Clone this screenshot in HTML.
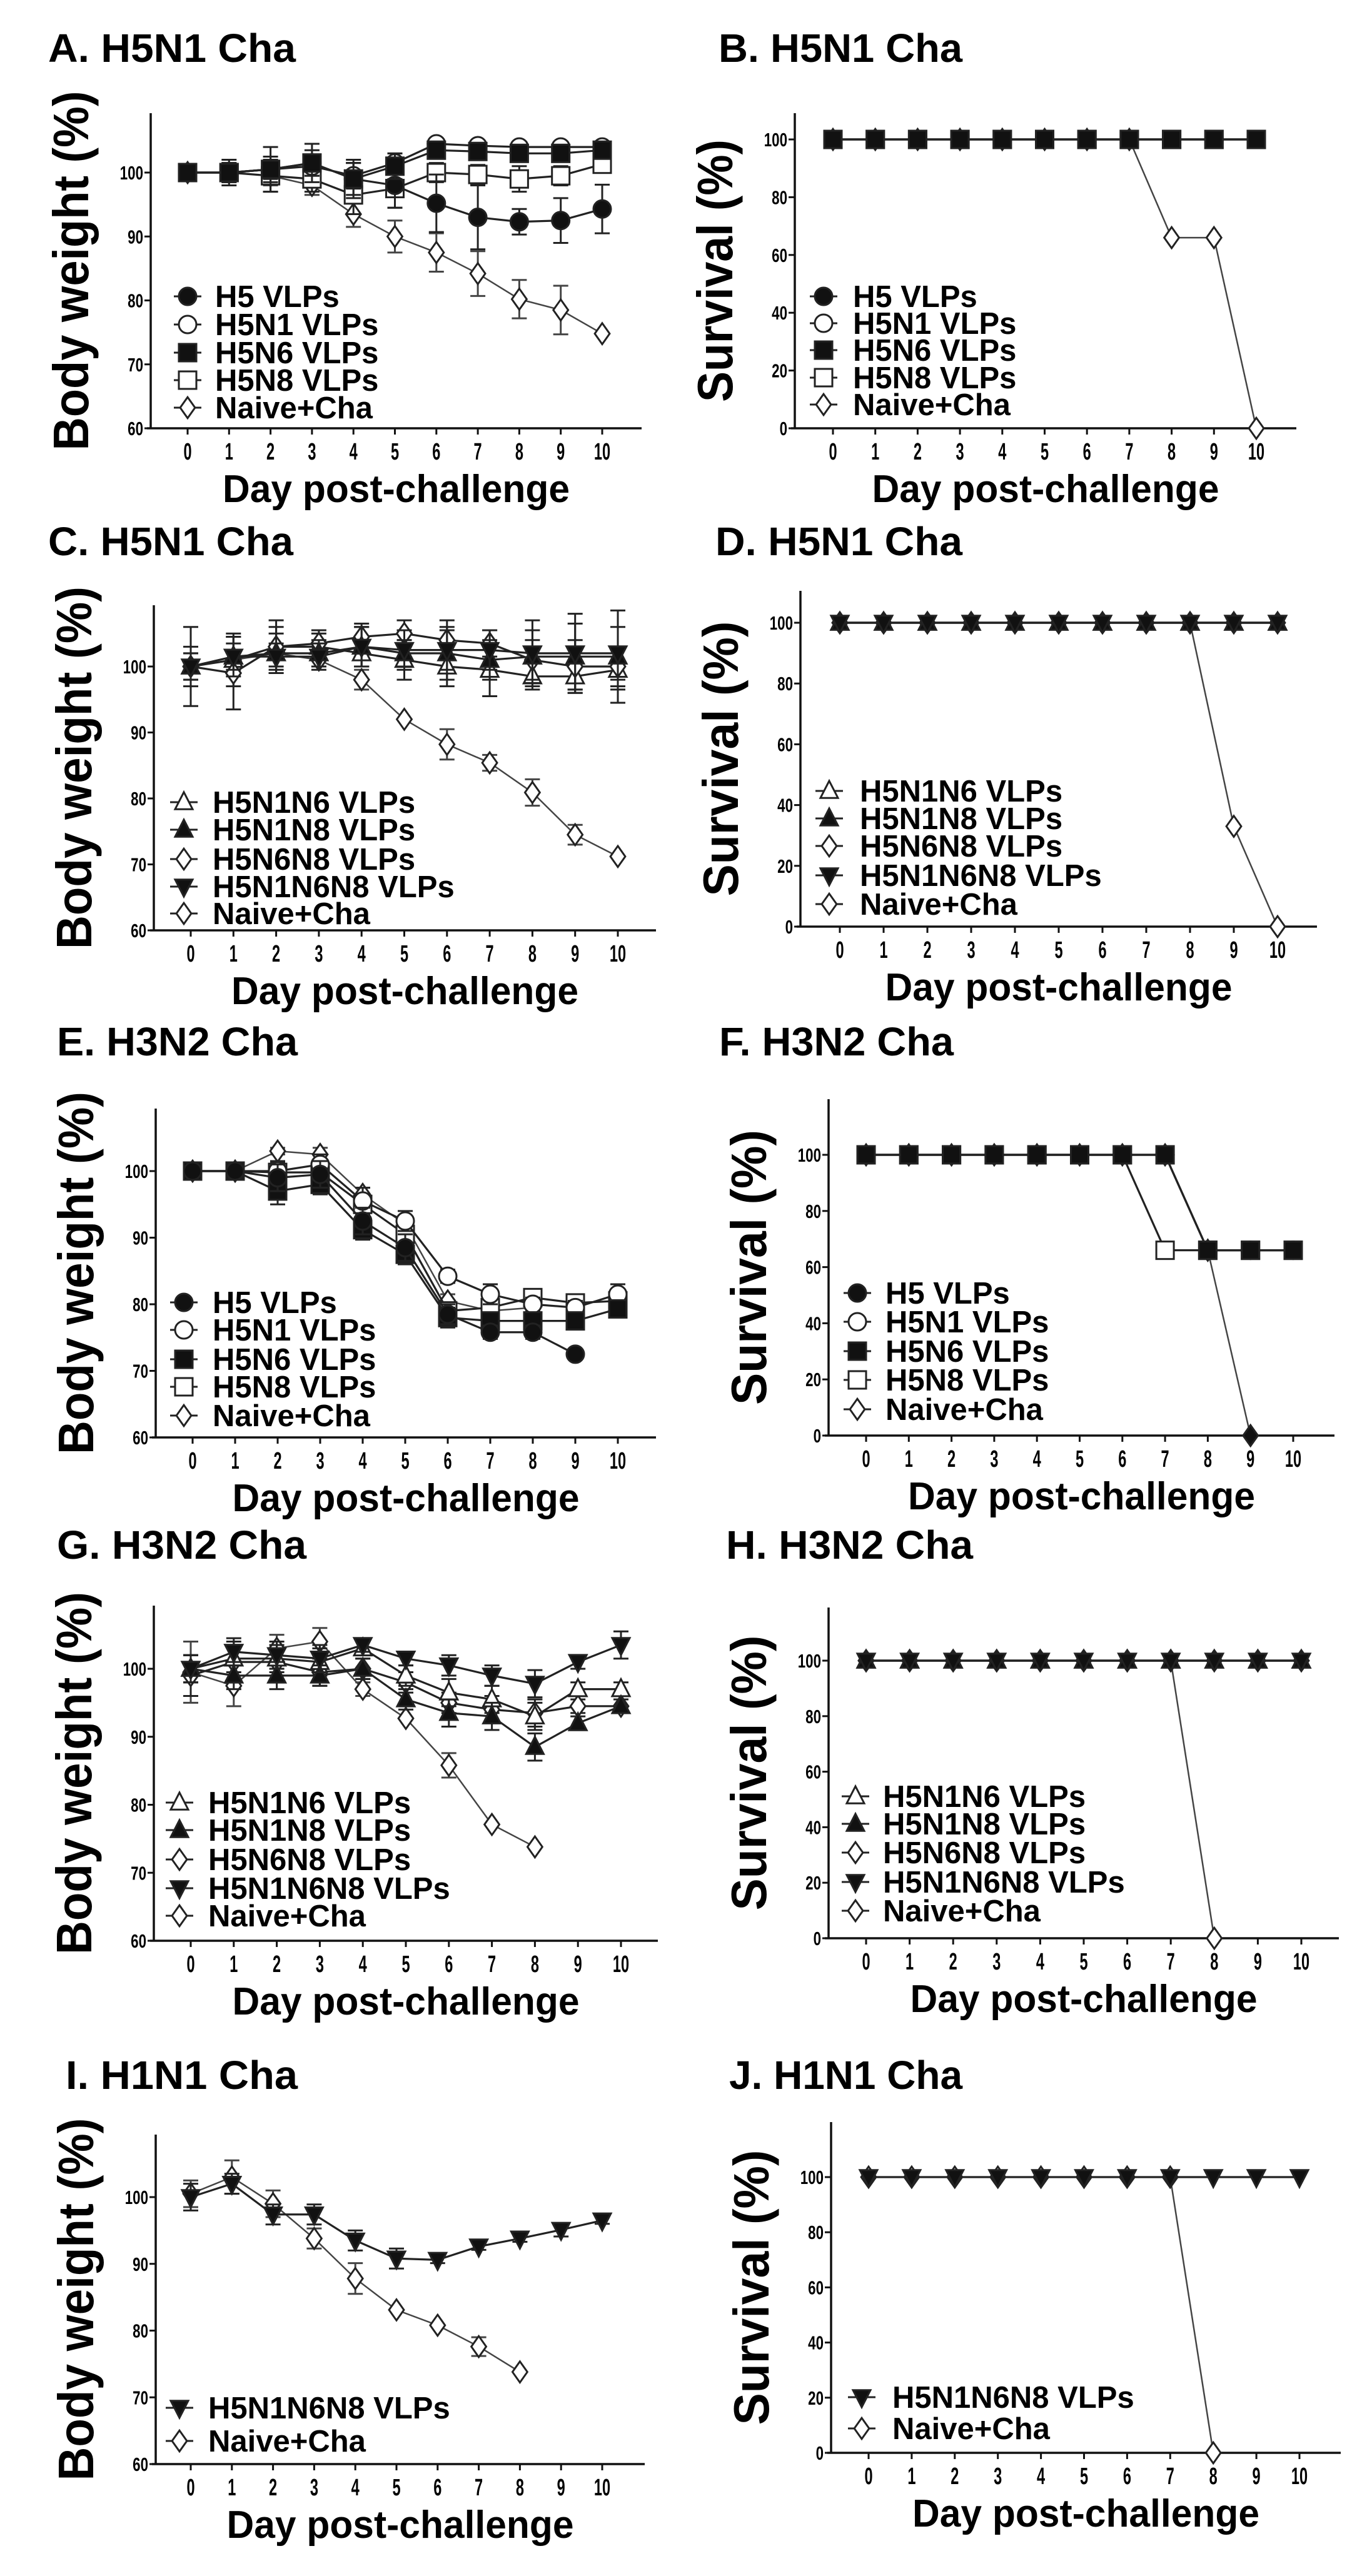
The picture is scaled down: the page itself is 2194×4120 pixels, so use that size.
<!DOCTYPE html>
<html><head><meta charset="utf-8">
<style>
html,body{margin:0;padding:0;background:#fff;}
svg{display:block;}
text{font-family:"Liberation Sans",Arial,sans-serif;font-weight:bold;fill:#000;}
</style></head>
<body>
<svg id="fig" xmlns="http://www.w3.org/2000/svg" width="2194" height="4120" viewBox="0 0 2194 4120">
<rect x="0" y="0" width="2194" height="4120" fill="#fff"/>
</svg>
<script>
// ---------- DATA ----------
const DAYS = [0,1,2,3,4,5,6,7,8,9,10];
const WEIGHT_TICKS = [60,70,80,90,100];
const SURV_TICKS = [0,20,40,60,80,100];
const DAY_LABELS = ["0","1","2","3","4","5","6","7","8","9","10"];

// Panel A
const aH5 = [100,100,100.5,101.5,99,98,95.2,93,92.3,92.5,94.3];
const aH5Err = [0,1.5,2,2,2.5,3.5,4.5,5,2,3.5,3.8];
const aH5N1 = [100,100,100.5,101,99.5,101.5,104.5,104.2,104,104,104];
const aH5N1Err = [0,1,1.5,1.5,2,1.5,0.8,0.8,0.8,0.8,0.8];
const aH5N6 = [100,100,100.5,101.5,99,101,103.5,103.3,103,103,103.5];
const aH5N6Err = [0,2,3.5,3,3,2,1,1,1,1,1];
const aH5N8 = [100,100,99.5,99,96.5,97.5,100,99.7,99,99.5,101.3];
const aH5N8Err = [0,1.5,2.5,2,3,3,1.5,1.5,2,1.5,1];
const aNaive = [100,100,99.5,98,93.5,90,87.5,84.2,80.2,78.5,74.8];
const aNaiveErr = [0,1,1.5,1.5,2,2.5,3,3.5,3,3.8,0];
// Panel B
const bH5 = [100,100,100,100,100,100,100,100,100,100,100];
const bH5N1 = [100,100,100,100,100,100,100,100,100,100,100];
const bH5N6 = [100,100,100,100,100,100,100,100,100,100,100];
const bH5N8 = [100,100,100,100,100,100,100,100,100,100,100];
const bNaive = [100,100,100,100,100,100,100,100,66,66,0];
// Panel C
const cN1N6 = [100,101,103,103,102,101,100,99.5,98.5,98.5,99.5];
const cN1N6Err = [6,4,4,2,2,3,3,4,2,2,3];
const cN1N8 = [100,101.5,102,102,103,102,102,101,101.5,101.5,101.5];
const cN1N8Err = [2,3,3,2,3,2,4,3,4,5,7];
const cN6N8 = [100,99,103,103.5,104.5,105,104,103.5,101,100,100];
const cN6N8Err = [3,5.5,3,2,2,2,3,2,3,4,3];
const cN1N6N8 = [100,101.5,101.5,101.5,103,102.5,102.5,102.5,102,102,102];
const cN1N6N8Err = [2,2,2,2,3,3,3,3,5,6,4];
const cNaive = [100,101,102,101,98,92,88.2,85.4,80.9,74.5,71.2];
const cNaiveErr = [0,1,1,1,1.5,0,2.3,1.2,2,1.5,0];
// Panel D
const dN1N6 = [100,100,100,100,100,100,100,100,100,100,100];
const dN1N8 = [100,100,100,100,100,100,100,100,100,100,100];
const dN6N8 = [100,100,100,100,100,100,100,100,100,100,100];
const dN1N6N8 = [100,100,100,100,100,100,100,100,100,100,100];
const dNaive = [100,100,100,100,100,100,100,100,100,33,0];
// Panel E
const eH5 = [100,100,99,99.5,92.5,88.5,78.5,75.8,75.8,72.5];
const eH5Err = [0,1,2,2,2,2,1.5,1,1,0];
const eH5N1 = [100,100,100,101,95.5,92.5,84.2,81.5,80,79.5,81.5];
const eH5N1Err = [0,1,1.5,1.5,2,1.5,1,1.5,1,1,1.5];
const eH5N6 = [100,100,97,98,91.2,87.5,78,77.5,77.5,77.5,79.3];
const eH5N6Err = [0,1,2,1.5,1.5,1.5,1.5,1,1,1,1];
const eH5N8 = [100,100,99.8,99.8,95,90.5,79,79.5,81,80.2,80.5];
const eH5N8Err = [0,1,1.5,1.5,1.5,1.5,1,1,1,1,1];
const eNaive = [100,100,103,102.5,96.5,92,80.5,79,79.5];
const eNaiveErr = [0,1,0.5,1,1,1,1,1,1];
// Panel F
const fH5 = [100,100,100,100,100,100,100,100,66,66,66];
const fH5N1 = [100,100,100,100,100,100,100,100,66,66,66];
const fH5N6 = [100,100,100,100,100,100,100,100,66,66,66];
const fH5N8 = [100,100,100,100,100,100,100,66,66,66,66];
const fNaive = [100,100,100,100,100,100,100,100,66,0];
// Panel G
const gN1N6 = [100,101.5,101.5,101,103,99,96.5,95.5,93,97,97];
const gN1N6Err = [2,2,2,2,1,1.5,2,2,2,1,1];
const gN1N8 = [100,99,99,99,100,95.5,93.5,93,88.5,92,94.5];
const gN1N8Err = [2,2,2,1.5,1.5,1.5,2,2,2,1,1];
const gN6N8 = [99,101,101,99.5,100,98,95,94,93.5,94.5,94.5];
const gN6N8Err = [3,3,2,2,1.5,1.5,1.5,2,2,1,1];
const gN1N6N8 = [100,102.5,102,101.5,103.5,101.5,100.5,99,97.8,101,103.5];
const gN1N6N8Err = [2,2,2,2,1,1,1.5,1.5,2,1,2];
const gNaive = [99.5,97.5,103,104,97,92.7,85.8,77.1,73.8];
const gNaiveErr = [4.5,3,2,2,1,0,1.8,0,0];
// Panel H
const hN1N6 = [100,100,100,100,100,100,100,100,100,100,100];
const hN1N8 = [100,100,100,100,100,100,100,100,100,100,100];
const hN6N8 = [100,100,100,100,100,100,100,100,100,100,100];
const hN1N6N8 = [100,100,100,100,100,100,100,100,100,100,100];
const hNaive = [100,100,100,100,100,100,100,100,0];
// Panel I
const iN1N6N8 = [100,102,97.4,97.4,93.5,90.8,90.6,92.6,93.8,95.1,96.5];
const iN1N6N8Err = [2,1.5,1.5,1.5,1.5,1.5,0.5,0.5,0.5,1,0.5];
const iNaive = [100.5,103,99,93.8,87.8,83.1,80.8,77.6,73.8];
const iNaiveErr = [2,2.5,2,1.5,2.3,0,0,1.4,0];
// Panel J
const jN1N6N8 = [100,100,100,100,100,100,100,100,100,100,100];
const jNaive = [100,100,100,100,100,100,100,100,0];

// ---------- DRAWING ----------
const NS = "http://www.w3.org/2000/svg";
const svg = document.getElementById("fig");
function el(tag, attrs, parent){
  const e = document.createElementNS(NS, tag);
  for (const k in attrs) e.setAttribute(k, attrs[k]);
  (parent||svg).appendChild(e);
  return e;
}
function txt(parent, x, y, s, size, anchor, sx, extra){
  const g = el("g", {transform:`translate(${x},${y}) scale(${sx},1)`}, parent);
  const t = el("text", Object.assign({x:0,y:0,"font-size":size,"text-anchor":anchor}, extra||{}), g);
  t.textContent = s;
  return t;
}
function marker(parent, type, x, y, s){
  const filled = ["circle","square","tri","tridown","fdiamond"].includes(type);
  const fill = filled ? "#111" : "#fff";
  const st = {fill:fill, stroke:"#222", "stroke-width":3};
  let m;
  if (type==="circle"||type==="ocircle") m = el("circle", Object.assign({cx:x,cy:y,r:s}, st), parent);
  else if (type==="square"||type==="osquare") m = el("rect", Object.assign({x:x-s,y:y-s,width:2*s,height:2*s}, st), parent);
  else if (type==="diamond"||type==="fdiamond") m = el("polygon", Object.assign({points:`${x},${y-s*1.2} ${x+s*0.85},${y} ${x},${y+s*1.2} ${x-s*0.85},${y}`}, st), parent);
  else if (type==="tri"||type==="otri") m = el("polygon", Object.assign({points:`${x},${y-s*1.15} ${x+s},${y+s*0.8} ${x-s},${y+s*0.8}`}, st), parent);
  else m = el("polygon", Object.assign({points:`${x},${y+s*1.15} ${x+s},${y-s*0.8} ${x-s},${y-s*0.8}`}, st), parent);
  return m;
}

function panel(cfg){
  const g = el("g", {});
  
  
  const xs = d => cfg.d0 + (cfg.d10 - cfg.d0) * d / 10;
  const ys = v => cfg.yb - (cfg.yb - cfg.y100) * (v - cfg.ymin) / (100 - cfg.ymin);
  const tt = txt(g, cfg.titleX, cfg.titleY, cfg.title, 64, "start", 1, {textLength:cfg.titleW, lengthAdjust:"spacingAndGlyphs"});
  
  
  const ya = el("line", {x1:cfg.ax,y1:cfg.top,x2:cfg.ax,y2:cfg.yb,stroke:"#111","stroke-width":3.5}, g);
  
  
  const xa = el("line", {x1:cfg.ax-6,y1:cfg.yb,x2:cfg.right,y2:cfg.yb,stroke:"#111","stroke-width":3.5}, g);
  
  
  cfg.yticks.forEach(v => {
    const y = ys(v);
    el("line", {x1:cfg.ax-10,y1:y,x2:cfg.ax,y2:y,stroke:"#111","stroke-width":3}, g);
    const t = txt(g, cfg.ax-12, y+11, String(v), 31, "end", 0.72);
    
    
  });
  DAYS.forEach((d,i) => {
    const x = xs(d);
    el("line", {x1:x,y1:cfg.yb,x2:x,y2:cfg.yb+10,stroke:"#111","stroke-width":3}, g);
    const t = txt(g, x, cfg.yb+50, DAY_LABELS[i], 38, "middle", 0.62);
    
    
  });
  const xt = txt(g, (cfg.ax+cfg.right)/2, cfg.yb+118, "Day post-challenge", 62, "middle", 1, {textLength:555, lengthAdjust:"spacingAndGlyphs"});
  
  
  const midY = (cfg.top + cfg.yb)/2;
  const yg = el("g", {transform:`translate(${cfg.ax-100},${midY}) rotate(-90)`}, g);
  const yt = el("text", {x:0,y:0,"font-size":80,"text-anchor":"middle",textLength:cfg.ylabW,lengthAdjust:"spacingAndGlyphs"}, yg);
  yt.textContent = cfg.ylabel;
  
  
  cfg.series.forEach(s => {
    const sg = el("g", {}, g);
    
    
    const col = s.naive ? "#444" : "#222";
    const pts = s.values.map((v,i) => `${xs(DAYS[i])},${ys(v)}`).join(" ");
    el("polyline", {points:pts, fill:"none", stroke:col, "stroke-width": s.naive?2.5:3.2}, sg);
    if (s.err) s.values.forEach((v,i) => {
      const e = s.err[i]; if (!e) return;
      const x = xs(DAYS[i]);
      el("line", {x1:x,y1:ys(v+e),x2:x,y2:ys(v-e),stroke:col,"stroke-width":3}, sg);
      el("line", {x1:x-12,y1:ys(v+e),x2:x+12,y2:ys(v+e),stroke:col,"stroke-width":3}, sg);
      el("line", {x1:x-12,y1:ys(v-e),x2:x+12,y2:ys(v-e),stroke:col,"stroke-width":3}, sg);
    });
    s.values.forEach((v,i) => {
      const m = marker(sg, s.marker, xs(DAYS[i]), ys(v), 14);
      
      
    });
  });
  const lg = el("g", {}, g);
  
  
  cfg.legend.forEach((item, k) => {
    const y = cfg.legY[k];
    const eg = el("g", {}, lg);
    
    
    el("line", {x1:cfg.legX-22,y1:y,x2:cfg.legX+22,y2:y,stroke:"#222","stroke-width":3}, eg);
    marker(eg, item.marker, cfg.legX, y, 14);
    txt(eg, cfg.legTX, y+17, item.label, 49, "start", 1);
  });
}

const WL = "Body weight (%)", SL = "Survival (%)";
const leg5a = [{label:"H5 VLPs",marker:"circle"},{label:"H5N1 VLPs",marker:"ocircle"},{label:"H5N6 VLPs",marker:"square"},{label:"H5N8 VLPs",marker:"osquare"},{label:"Naive+Cha",marker:"diamond"}];
const leg5b = [{label:"H5N1N6 VLPs",marker:"otri"},{label:"H5N1N8 VLPs",marker:"tri"},{label:"H5N6N8 VLPs",marker:"diamond"},{label:"H5N1N6N8 VLPs",marker:"tridown"},{label:"Naive+Cha",marker:"diamond"}];
const leg2 = [{label:"H5N1N6N8 VLPs",marker:"tridown"},{label:"Naive+Cha",marker:"diamond"}];

function S(label, values, marker, err, naive){ return {label, values, marker, err, naive}; }

panel({name:"panel-a", title:"A. H5N1 Cha", titleX:77, titleY:99, titleW:396, ylabel:WL, ylabW:575,
  ax:241,d0:300,d10:963,right:1026,yb:685,y100:276,top:181,ymin:60,yticks:WEIGHT_TICKS,
  series:[S("Naive+Cha",aNaive,"diamond",aNaiveErr,true),S("H5N8 VLPs",aH5N8,"osquare",aH5N8Err),S("H5 VLPs",aH5,"circle",aH5Err),S("H5N1 VLPs",aH5N1,"ocircle",aH5N1Err),S("H5N6 VLPs",aH5N6,"square",aH5N6Err)],
  legend:leg5a, legX:300, legTX:344, legY:[474,519,564,608,652]});
panel({name:"panel-b", title:"B. H5N1 Cha", titleX:1149, titleY:99, titleW:390, ylabel:SL, ylabW:420,
  ax:1271,d0:1332,d10:2009,right:2073,yb:685,y100:223,top:181,ymin:0,yticks:SURV_TICKS,
  series:[S("Naive+Cha",bNaive,"diamond",null,true),S("H5N1 VLPs",bH5N1,"ocircle"),S("H5N8 VLPs",bH5N8,"osquare"),S("H5 VLPs",bH5,"circle"),S("H5N6 VLPs",bH5N6,"square")],
  legend:leg5a, legX:1317, legTX:1364, legY:[474,517,560,604,647]});
panel({name:"panel-c", title:"C. H5N1 Cha", titleX:77, titleY:888, titleW:392, ylabel:WL, ylabW:580,
  ax:246,d0:305,d10:988,right:1049,yb:1488,y100:1066,top:968,ymin:60,yticks:WEIGHT_TICKS,
  series:[S("Naive+Cha",cNaive,"diamond",cNaiveErr,true),S("H5N1N6 VLPs",cN1N6,"otri",cN1N6Err),S("H5N6N8 VLPs",cN6N8,"diamond",cN6N8Err),S("H5N1N8 VLPs",cN1N8,"tri",cN1N8Err),S("H5N1N6N8 VLPs",cN1N6N8,"tridown",cN1N6N8Err)],
  legend:leg5b, legX:294, legTX:340, legY:[1283,1327,1374,1418,1461]});
panel({name:"panel-d", title:"D. H5N1 Cha", titleX:1144, titleY:888, titleW:395, ylabel:SL, ylabW:440,
  ax:1280,d0:1343,d10:2043,right:2106,yb:1482,y100:996,top:945,ymin:0,yticks:SURV_TICKS,
  series:[S("Naive+Cha",dNaive,"diamond",null,true),S("H5N1N6 VLPs",dN1N6,"otri"),S("H5N6N8 VLPs",dN6N8,"diamond"),S("H5N1N8 VLPs",dN1N8,"tri"),S("H5N1N6N8 VLPs",dN1N6N8,"tridown")],
  legend:leg5b, legX:1326, legTX:1375, legY:[1265,1309,1353,1400,1446]});
panel({name:"panel-e", title:"E. H3N2 Cha", titleX:91, titleY:1688, titleW:385, ylabel:WL, ylabW:580,
  ax:249,d0:308,d10:988,right:1049,yb:2299,y100:1873,top:1773,ymin:60,yticks:WEIGHT_TICKS,
  series:[S("Naive+Cha",eNaive,"diamond",eNaiveErr,true),S("H5N8 VLPs",eH5N8,"osquare",eH5N8Err),S("H5N1 VLPs",eH5N1,"ocircle",eH5N1Err),S("H5N6 VLPs",eH5N6,"square",eH5N6Err),S("H5 VLPs",eH5,"circle",eH5Err)],
  legend:leg5a, legX:294, legTX:340, legY:[2083,2127,2174,2218,2264]});
panel({name:"panel-f", title:"F. H3N2 Cha", titleX:1150, titleY:1688, titleW:375, ylabel:SL, ylabW:440,
  ax:1325,d0:1385,d10:2068,right:2134,yb:2296,y100:1847,top:1758,ymin:0,yticks:SURV_TICKS,
  series:[S("Naive+Cha",fNaive,"fdiamond",null,true),S("H5N8 VLPs",fH5N8,"osquare"),S("H5N1 VLPs",fH5N1,"ocircle"),S("H5 VLPs",fH5,"circle"),S("H5N6 VLPs",fH5N6,"square")],
  legend:leg5a, legX:1371, legTX:1416, legY:[2068,2114,2161,2207,2254]});
panel({name:"panel-g", title:"G. H3N2 Cha", titleX:91, titleY:2493, titleW:399, ylabel:WL, ylabW:580,
  ax:246,d0:305,d10:993,right:1052,yb:3104,y100:2669,top:2568,ymin:60,yticks:WEIGHT_TICKS,
  series:[S("Naive+Cha",gNaive,"diamond",gNaiveErr,true),S("H5N6N8 VLPs",gN6N8,"diamond",gN6N8Err),S("H5N1N6 VLPs",gN1N6,"otri",gN1N6Err),S("H5N1N8 VLPs",gN1N8,"tri",gN1N8Err),S("H5N1N6N8 VLPs",gN1N6N8,"tridown",gN1N6N8Err)],
  legend:leg5b, legX:287, legTX:333, legY:[2883,2927,2974,3020,3064]});
panel({name:"panel-h", title:"H. H3N2 Cha", titleX:1161, titleY:2493, titleW:395, ylabel:SL, ylabW:440,
  ax:1325,d0:1385,d10:2081,right:2141,yb:3100,y100:2656,top:2571,ymin:0,yticks:SURV_TICKS,
  series:[S("Naive+Cha",hNaive,"diamond",null,true),S("H5N1N6 VLPs",hN1N6,"otri"),S("H5N6N8 VLPs",hN6N8,"diamond"),S("H5N1N8 VLPs",hN1N8,"tri"),S("H5N1N6N8 VLPs",hN1N6N8,"tridown")],
  legend:leg5b, legX:1368, legTX:1412, legY:[2873,2917,2963,3010,3056]});
panel({name:"panel-i", title:"I. H1N1 Cha", titleX:105, titleY:3341, titleW:371, ylabel:WL, ylabW:580,
  ax:249,d0:305,d10:963,right:1031,yb:3941,y100:3514,top:3414,ymin:60,yticks:WEIGHT_TICKS,
  series:[S("Naive+Cha",iNaive,"diamond",iNaiveErr,true),S("H5N1N6N8 VLPs",iN1N6N8,"tridown",iN1N6N8Err)],
  legend:leg2, legX:287, legTX:333, legY:[3851,3904]});
panel({name:"panel-j", title:"J. H1N1 Cha", titleX:1166, titleY:3341, titleW:373, ylabel:SL, ylabW:440,
  ax:1329,d0:1389,d10:2078,right:2144,yb:3923,y100:3482,top:3394,ymin:0,yticks:SURV_TICKS,
  series:[S("Naive+Cha",jNaive,"diamond",null,true),S("H5N1N6N8 VLPs",jN1N6N8,"tridown")],
  legend:leg2, legX:1378, legTX:1427, legY:[3834,3884]});
</script>
</body></html>
